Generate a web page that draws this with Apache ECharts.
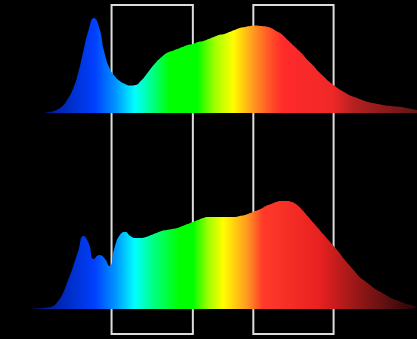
<!DOCTYPE html>
<html>
<head>
<meta charset="utf-8">
<script src="https://cdn.jsdelivr.net/npm/echarts@6/dist/echarts.min.js"></script>
<style>
  html, body { margin: 0; padding: 0; background: #000; }
  #chart { width: 417px; height: 339px; }
</style>
</head>
<body>
<div id="chart"></div>
<script>
// Wavelengths (nm), sampled every 5 nm
var wavelengths = [];
for (var w = 380; w <= 760; w += 5) wavelengths.push(w);

// Relative intensity of the upper spectrum
var upperValues = [0,0,0,0,0,0.5,1.5,3.5,7,14,24,40,62,83,95,86,61,45,37,32,29,27.5,28,32,38,45,51,56,60,62,64,66,68,69,71,72,74,76,78,79,81,83,85,86,87,87.5,87,86.5,85,82,79,74,69,64,59,53,48,42,37,32,28,24,21,18,16,14,12,10.5,9.5,8.5,7.5,7,6.5,6,5,4,3];

// Relative intensity of the lower spectrum
var lowerValues = [0,0,0.3,0.6,1,1.5,2.5,7,15,28,42,58,73,66,50,54,51,43,62,74,77,73,71,71,72,74,76,78,79,80,81,83,85,87,89,91,92,92,92,92,92,92,93,94,96,98,100,103,105,107,108,108,107,104,99,93,87,81,75,69,63,57,50,44,38,32,28,24,20,17,14,11,9,7,5,4,2];

// Highlighted wavelength bands (nm)
var bands = [[467, 545], [603, 680]];

var axisMin = 360, axisMax = 760;
var dataMin = 380, dataMax = 760;

function off(l) { return (l - dataMin) / (dataMax - dataMin); }

var upperStops = [
  [380, '#000a40'], [403, '#001a90'], [430, '#0030d0'], [451, '#0040ff'],
  [470, '#0090ff'], [489.5, '#00ffff'], [505, '#00ff90'], [523, '#00ff00'],
  [549, '#00ff00'], [566, '#a0ff00'], [583.5, '#ffff00'], [602.7, '#ff9a20'],
  [618, '#ff5528'], [631.5, '#ff2a2a'], [679, '#f02828'], [698.6, '#b82020'],
  [730, '#8a1a1a'], [760, '#601515']
];
var lowerStops = [
  [380, '#000a40'], [400, '#001a90'], [430, '#0030d0'], [451, '#0040ff'],
  [470, '#0090ff'], [489.5, '#00ffff'], [505, '#00ff90'], [532.7, '#00ff00'],
  [545, '#00ff00'], [560, '#a0ff00'], [574, '#ffff00'], [597, '#ff9a20'],
  [612, '#ff3a2a'], [667, '#e82020'], [698.6, '#a01818'], [730, '#601010'],
  [760, '#200505']
];

function gradient(stops) {
  return new echarts.graphic.LinearGradient(0, 0, 1, 0,
    stops.map(function (s) { return { offset: off(s[0]), color: s[1] }; }));
}

function pairs(vals) {
  return wavelengths.map(function (l, i) { return [l, vals[i]]; });
}

var chart = echarts.init(document.getElementById('chart'), null, { renderer: 'canvas' });

var xAxisBase = { type: 'value', min: axisMin, max: axisMax, show: false };
var yAxisBase = { type: 'value', min: 0, show: false };

chart.setOption({
  backgroundColor: '#000',
  animation: false,
  grid: [
    { left: 0, right: 0, top: 13, height: 100 },
    { left: 0, right: 0, top: 199, height: 110 },
    { left: 0, right: 0, top: 5, height: 329 }
  ],
  xAxis: [
    Object.assign({ gridIndex: 0 }, xAxisBase),
    Object.assign({ gridIndex: 1 }, xAxisBase),
    Object.assign({ gridIndex: 2 }, xAxisBase)
  ],
  yAxis: [
    Object.assign({ gridIndex: 0, max: 100 }, yAxisBase),
    Object.assign({ gridIndex: 1, max: 110 }, yAxisBase),
    Object.assign({ gridIndex: 2, max: 100 }, yAxisBase)
  ],
  series: [
    {
      type: 'line', xAxisIndex: 0, yAxisIndex: 0,
      data: pairs(upperValues), smooth: 0.55, showSymbol: false,
      lineStyle: { width: 0 },
      areaStyle: { color: gradient(upperStops), opacity: 1 }
    },
    {
      type: 'line', xAxisIndex: 1, yAxisIndex: 1,
      data: pairs(lowerValues), smooth: 0.55, showSymbol: false,
      lineStyle: { width: 0 },
      areaStyle: { color: gradient(lowerStops), opacity: 1 }
    },
    {
      type: 'line', xAxisIndex: 2, yAxisIndex: 2, z: 10,
      data: [], silent: true,
      markArea: {
        silent: true,
        itemStyle: { color: 'rgba(0,0,0,0)', borderColor: '#dcdcdc', borderWidth: 2 },
        data: bands.map(function (b) { return [{ xAxis: b[0] }, { xAxis: b[1] }]; })
      }
    }
  ]
});
</script>
</body>
</html>
